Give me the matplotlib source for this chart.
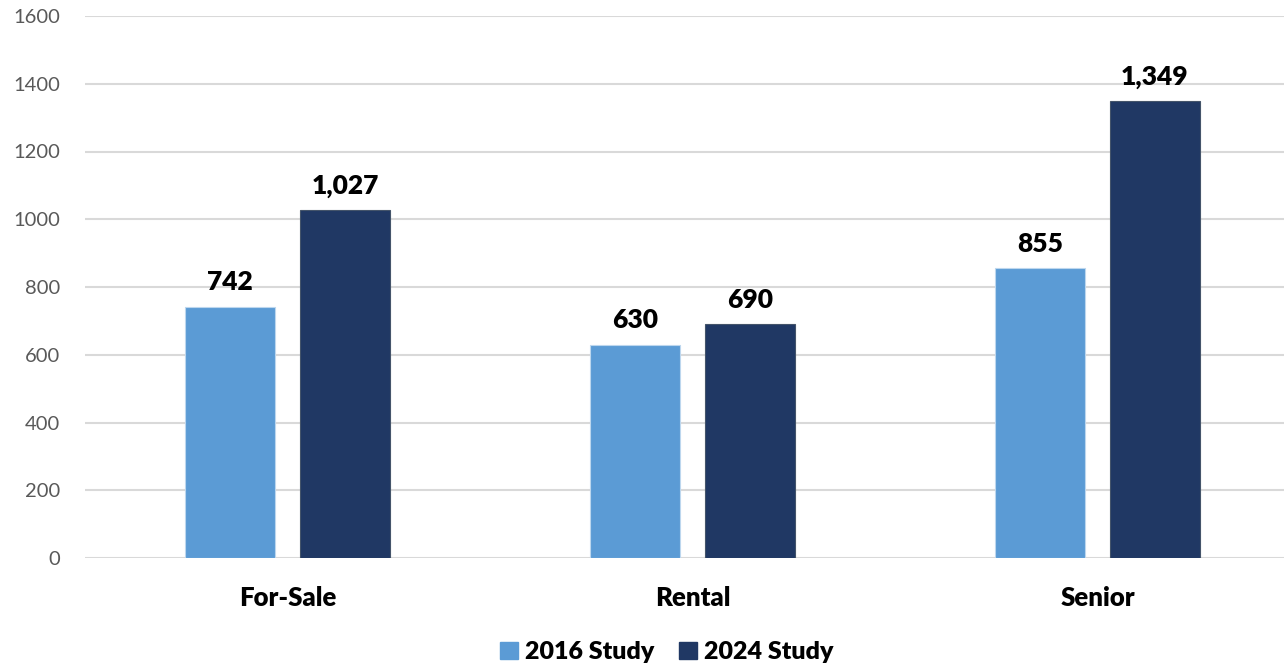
import numpy as np
import matplotlib.pyplot as plt
from matplotlib.patches import Patch

# 데이터
categories = ['For-Sale', 'Rental', 'Senior']
study_2016 = [742, 630, 855]
study_2024 = [1027, 690, 1349]
series_names = ['2016 Study', '2024 Study']

c2016 = '#5B9BD5'
c2024 = '#203864'

plt.rcParams['font.family'] = ['Lato', 'DejaVu Sans']

fig = plt.figure(figsize=(12.84, 6.69), dpi=100)
ax = fig.add_axes([85/1284, 1 - 558/669, 1 - 85/1284, (558 - 16)/669])

x = np.arange(len(categories))
w = 0.222
off = 0.142

b1 = ax.bar(x - off, study_2016, w, color=c2016, edgecolor='#BDD7EE', linewidth=0.8, zorder=3)
b2 = ax.bar(x + off, study_2024, w, color=c2024, edgecolor='#44546A', linewidth=0.8, zorder=3)

# 값 라벨
for bars, vals in [(b1, study_2016), (b2, study_2024)]:
    for b, v in zip(bars, vals):
        ax.annotate(f'{v:,}', (b.get_x() + b.get_width() / 2, v),
                    xytext=(0, 9), textcoords='offset points',
                    ha='center', va='bottom', fontsize=19, fontweight='heavy', color='black')

ax.set_xlim(-0.5, -0.5 + 1199 / 405)
ax.set_ylim(0, 1600)
ax.set_yticks(np.arange(0, 1601, 200))
ax.yaxis.grid(True, color='#D9D9D9', linewidth=1.5, zorder=0)
ax.set_axisbelow(True)
for s in ax.spines.values():
    s.set_visible(False)
ax.tick_params(axis='y', length=0, pad=18, labelsize=14.5, labelcolor='#595959')
ax.tick_params(axis='x', length=0, pad=20)
ax.set_xticks(x)
ax.set_xticklabels(categories, fontsize=18.5, fontweight='heavy')

handles = [Patch(color=c2016), Patch(color=c2024)]
fig.legend(handles, series_names, loc='center', bbox_to_anchor=(667/1284, 1 - 652/669),
           ncol=2, frameon=False, prop={'size': 18, 'weight': 'heavy'},
           handlelength=0.7, handleheight=0.7, handletextpad=0.3, columnspacing=1.0)

fig.savefig('out.png', dpi=100)
